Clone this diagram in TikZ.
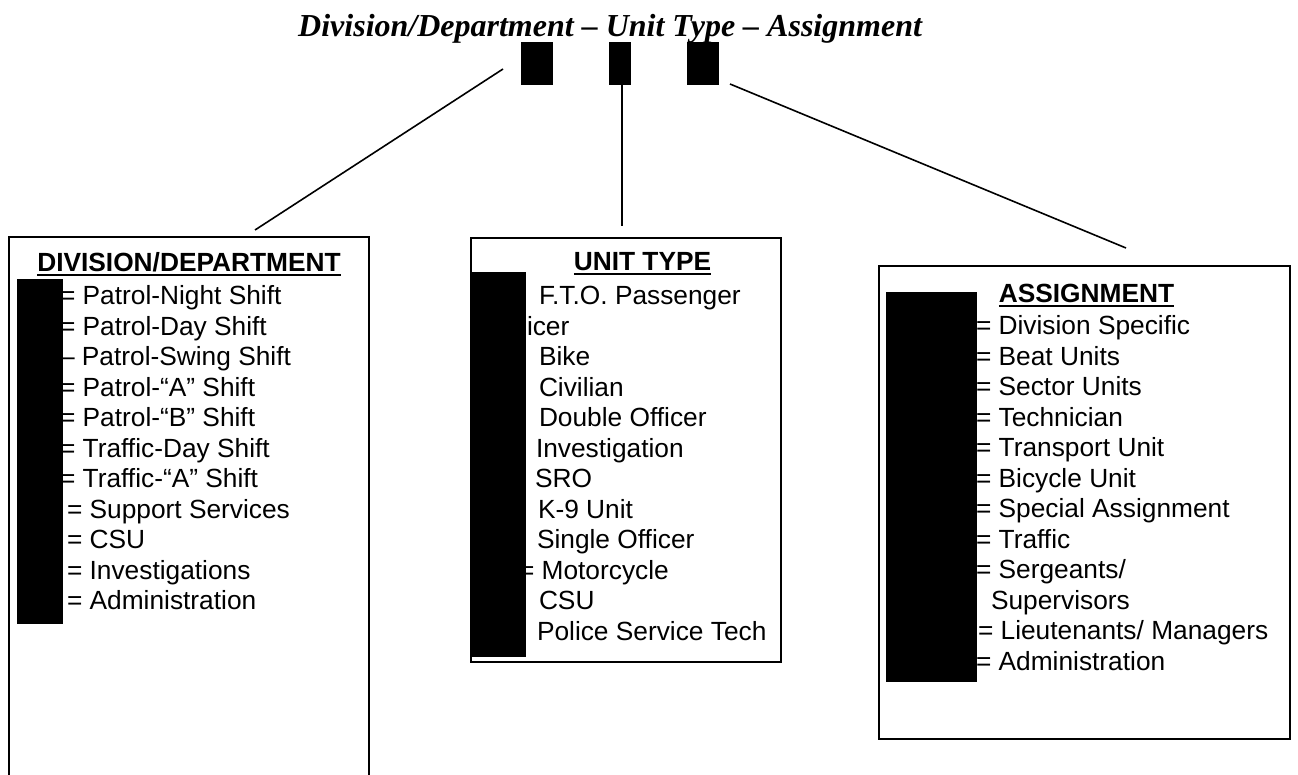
\documentclass[tikz,border=0pt]{standalone}
\usepackage{fontspec}
\setmainfont{Liberation Sans}
\newfontfamily\titlefont{Liberation Serif}
\begin{document}
\begin{tikzpicture}[x=1pt,y=-1pt,
  panel/.style={draw=black, line width=1.6pt, fill=white, inner sep=0pt, outer sep=0pt, anchor=north west},
  redact/.style={fill=black, draw=none, inner sep=0pt, outer sep=0pt, anchor=north west},
  item/.style={inner sep=0pt, outer sep=0pt, anchor=base west, font=\fontsize{26.3}{30.5}\selectfont},
  head/.style={inner sep=0pt, outer sep=0pt, anchor=base, font=\fontsize{26.3}{30.5}\selectfont\bfseries},
  uline/.style={line width=1.8pt},
  conn/.style={line width=1.6pt}]
\clip (0,0) rectangle (1298,774);
\fill[white] (0,0) rectangle (1298,774);

% title
\node[inner sep=0pt, anchor=base west, font=\titlefont\bfseries\itshape\fontsize{32}{38}\selectfont] (title) at (298,36) {Division/Department – Unit Type – Assignment};

% panels
\node[panel, minimum width=360pt, minimum height=560pt] (leftbox) at (9,237) {};
\node[panel, minimum width=310pt, minimum height=424pt] (midbox) at (471,238) {};
\node[panel, minimum width=411pt, minimum height=473pt] (rightbox) at (879,266) {};

% connectors
\coordinate (c1a) at (503,69);
\coordinate (c1b) at (255,230);
\coordinate (c2a) at (622,85);
\coordinate (c2b) at (622,226);
\coordinate (c3a) at (730,84);
\coordinate (c3b) at (1126,248);
\draw[conn] (c1a) -- (c1b);
\draw[conn] (c2a) -- (c2b);
\draw[conn] (c3a) -- (c3b);

% headings
\node[head] (h1) at (189,271) {DIVISION/DEPARTMENT};
\draw[uline] ([yshift=-4pt]h1.base west) -- ([yshift=-4pt]h1.base east);
\node[head] (h2) at (642.5,270) {UNIT TYPE};
\draw[uline] ([yshift=-4pt]h2.base west) -- ([yshift=-4pt]h2.base east);
\node[head] (h3) at (1086.5,302) {ASSIGNMENT};
\draw[uline] ([yshift=-4pt]h3.base west) -- ([yshift=-4pt]h3.base east);

% left items
\node[item] (d1) at (60,304.5) {= Patrol-Night Shift};
\node[item] (d2) at (60,335) {= Patrol-Day Shift};
\node[item] (d3) at (60,365.5) {– Patrol-Swing Shift};
\node[item] (d4) at (60,396) {= Patrol-“A” Shift};
\node[item] (d5) at (60,426.5) {= Patrol-“B” Shift};
\node[item] (d6) at (60,457) {= Traffic-Day Shift};
\node[item] (d7) at (60,487.5) {= Traffic-“A” Shift};
\node[item] (d8) at (67,518) {= Support Services};
\node[item] (d9) at (67,548.5) {= CSU};
\node[item] (d10) at (67,579) {= Investigations};
\node[item] (d11) at (67,609.5) {= Administration};

% middle items
\node[item] (u1) at (539,304.5) {F.T.O. Passenger};
\node[item] (u2) at (527,335) {icer};
\node[item] (u3) at (539,365.5) {Bike};
\node[item] (u4) at (539,396) {Civilian};
\node[item] (u5) at (539,426.5) {Double Officer};
\node[item] (u6) at (536,457) {Investigation};
\node[item] (u7) at (535,487.5) {SRO};
\node[item] (u8) at (538,518) {K-9 Unit};
\node[item] (u9) at (537,548.5) {Single Officer};
\node[item] (u10) at (519,579) {= Motorcycle};
\node[item] (u11) at (539,609.5) {CSU};
\node[item] (u12) at (537,640) {Police Service Tech};

% right items
\node[item] (a1) at (976,334.5) {= Division Specific};
\node[item] (a2) at (976,365) {= Beat Units};
\node[item] (a3) at (976,395.5) {= Sector Units};
\node[item] (a4) at (976,426) {= Technician};
\node[item] (a5) at (976,456.5) {= Transport Unit};
\node[item] (a6) at (976,487) {= Bicycle Unit};
\node[item] (a7) at (976,517.5) {= Special Assignment};
\node[item] (a8) at (976,548) {= Traffic};
\node[item] (a9) at (976,578.5) {= Sergeants/};
\node[item] (a10) at (991,609) {Supervisors};
\node[item] (a11) at (978,639.5) {= Lieutenants/ Managers};
\node[item] (a12) at (976,670) {= Administration};

% redaction blocks
\node[redact, minimum width=32pt, minimum height=43pt] (r1) at (521,42) {};
\node[redact, minimum width=22pt, minimum height=43pt] (r2) at (609,42) {};
\node[redact, minimum width=32pt, minimum height=43pt] (r3) at (687,42) {};
\node[redact, minimum width=46pt, minimum height=345pt] (rl) at (17,279) {};
\node[redact, minimum width=56pt, minimum height=385pt] (rm) at (470,272) {};
\node[redact, minimum width=91pt, minimum height=390pt] (rr) at (886,292) {};
\end{tikzpicture}
\end{document}
